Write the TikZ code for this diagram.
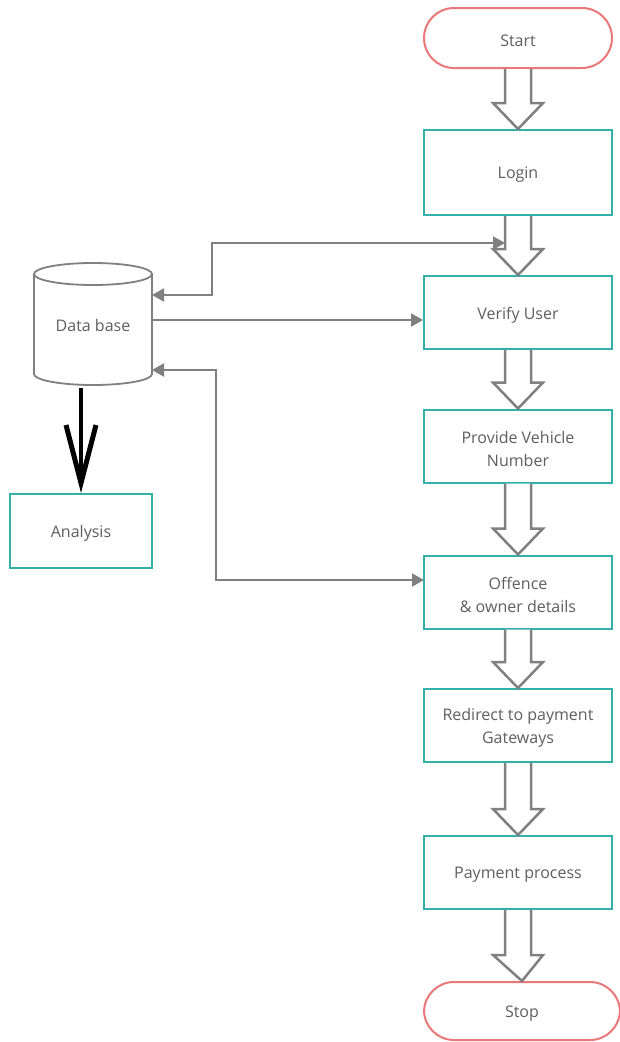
\documentclass[tikz,border=0pt]{standalone}
\usepackage{fontspec}
\setmainfont{Open Sans}
\usetikzlibrary{arrows.meta,calc}
\definecolor{teal}{RGB}{52,176,170}
\definecolor{redline}{RGB}{234,120,120}
\definecolor{arrgray}{RGB}{128,128,128}
\definecolor{txtgray}{RGB}{95,95,95}
\tikzset{
  base/.style={font=\fontsize{16}{23}\selectfont, text=txtgray, align=center, line width=2pt},
  txt/.style={label={[base, yshift=-2.5pt]center:{#1}}},
  procbox/.style={base, draw=teal, fill=white, minimum width=188pt, minimum height=73pt, inner sep=0pt},
  terminal/.style={base, draw=redline, fill=white, rounded corners=30pt, minimum width=188pt, minimum height=60pt, inner sep=0pt},
  conn/.style={draw=arrgray, line width=2pt, arrows={-Triangle[length=12pt,width=13pt]}},
  bconn/.style={draw=arrgray, line width=2pt, arrows={Triangle[length=12pt,width=13pt]-Triangle[length=12pt,width=13pt]}},
  hollow/.style={draw=arrgray, line width=2.5pt, fill=white, line join=miter},
}
\newcommand\hollowarrow[2]{%
  \path[hollow] let \p1=(#1.south), \p2=(#2.north) in
    (\x1-13pt,\y1) -- (\x1-13pt,\y2+26pt) -- (\x1-25pt,\y2+26pt) -- (\x2,\y2)
    -- (\x1+25pt,\y2+26pt) -- (\x1+13pt,\y2+26pt) -- (\x1+13pt,\y1);}
\begin{document}
\begin{tikzpicture}[x=1pt,y=-1pt]
\useasboundingbox (0,0) rectangle (619,1042);
\fill[white] (0,0) rectangle (619,1042);
% flow nodes
\node[terminal, txt=Start] (start) at (518,38) {};
\node[procbox, minimum height=85pt, txt=Login] (login) at (518,172.5) {};
\node[procbox, txt=Verify User] (verify) at (518,312.5) {};
\node[procbox, txt={Provide Vehicle\\Number}] (vehicle) at (518,446) {};
\node[procbox, txt={Offence\\\& owner details}] (offence) at (518,592) {};
\node[procbox, txt={Redirect to payment\\Gateways}] (redirect) at (518,725.5) {};
\node[procbox, txt=Payment process] (payment) at (518,872.5) {};
\node[terminal, minimum width=196pt, minimum height=58pt, txt=Stop] (stop) at (522,1011) {};
% hollow arrows
\hollowarrow{start}{login}
\hollowarrow{login}{verify}
\hollowarrow{verify}{vehicle}
\hollowarrow{vehicle}{offence}
\hollowarrow{offence}{redirect}
\hollowarrow{redirect}{payment}
\hollowarrow{payment}{stop}
% database
\node[minimum width=118pt, minimum height=122pt, inner sep=0pt] (db) at (93,324) {};
\draw[arrgray, line width=1.8pt, fill=white] (34,274) -- (34,374) arc[start angle=180, end angle=0, x radius=59, y radius=11] -- (152,274);
\draw[arrgray, line width=1.8pt] (93,274) ellipse[x radius=59, y radius=11];
\node[base] (dbtext) at ([yshift=-1.5pt]db.center) {Data base};
% analysis
\node[procbox, minimum width=142pt, minimum height=74pt, txt=Analysis] (analysis) at (81,531) {};
% connector coordinates
\coordinate (dbA) at (152,295);
\coordinate (dbB) at (152,320);
\coordinate (dbC) at (152,370);
\coordinate (dbD) at (81,388);
\coordinate (vA) at (505,243);
\coordinate (offA) at (424,580);
% connectors
\draw[bconn] (dbA) -- ++(60,0) |- (vA);
\draw[conn] (dbB) -- (verify.west |- dbB);
\draw[bconn] (dbC) -- ++(64,0) |- (offA);
\draw[black, line width=3.5pt, arrows={-Straight Barb[length=58pt,width=30pt,line width=5pt]}] (dbD) -- (analysis.north);
\end{tikzpicture}
\end{document}
